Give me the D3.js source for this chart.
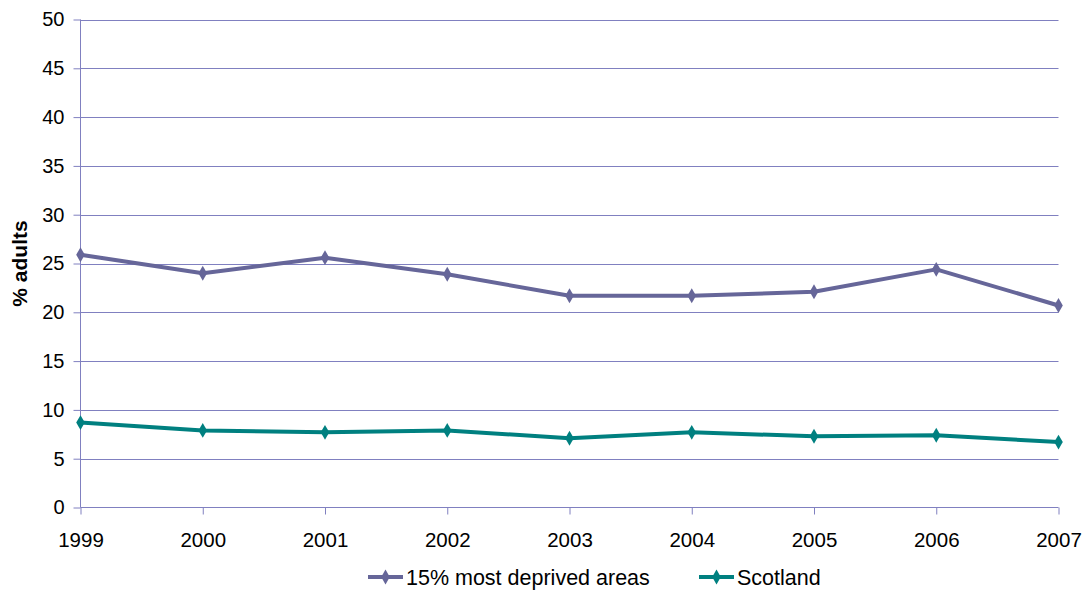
<!DOCTYPE html>
<html>
<head>
<meta charset="utf-8">
<script src="https://cdn.jsdelivr.net/npm/d3@7"></script>
<style>
  html, body { margin: 0; padding: 0; background: #fff; }
  svg { display: block; font-family: "Liberation Sans", Arial, sans-serif; }
</style>
</head>
<body>
<svg id="chart" width="1086" height="590"></svg>
<script>
// Survey years on the category axis
const years = ["1999", "2000", "2001", "2002", "2003", "2004", "2005", "2006", "2007"];
// Percentage of adults, by area type
const deprivedValues = [25.9, 24.0, 25.6, 23.9, 21.7, 21.7, 22.1, 24.4, 20.7];
const scotlandValues = [8.7, 7.9, 7.7, 7.9, 7.1, 7.7, 7.3, 7.4, 6.7];
const seriesNames = ["15% most deprived areas", "Scotland"];
const yTicks = [0, 5, 10, 15, 20, 25, 30, 35, 40, 45, 50];

const series = [
  { name: seriesNames[0], values: deprivedValues, color: "#666699" },
  { name: seriesNames[1], values: scotlandValues, color: "#008080" }
];

const svg = d3.select("#chart");
const plotLeft = 80.5, plotRight = 1058.5, plotTop = 19.5, plotBottom = 507.5;
const axisColor = "#8080c0";

const x = d3.scalePoint().domain(years).range([plotLeft, plotRight]);
const y = d3.scaleLinear().domain([0, 50]).range([plotBottom, plotTop]);

// Horizontal gridlines
svg.append("g")
  .selectAll("line")
  .data(yTicks.filter(d => d > 0))
  .join("line")
  .attr("x1", plotLeft).attr("x2", plotRight)
  .attr("y1", d => Math.round(y(d)) + 0.5).attr("y2", d => Math.round(y(d)) + 0.5)
  .attr("stroke", axisColor).attr("stroke-width", 1);

// Y axis
const yAxis = svg.append("g")
  .attr("transform", `translate(${plotLeft},0)`)
  .call(d3.axisLeft(y).tickValues(yTicks).tickSize(7).tickPadding(9).tickFormat(d3.format("d")));
yAxis.select(".domain").attr("stroke", axisColor).attr("d", `M0,${plotTop}V${plotBottom}`);
yAxis.selectAll(".tick line").attr("stroke", axisColor);
yAxis.selectAll(".tick text").attr("fill", "#000").style("font-size", "20px")
  .style("font-family", "'Liberation Sans', Arial, sans-serif");

// X axis
const xAxis = svg.append("g")
  .attr("transform", `translate(0,${plotBottom})`)
  .call(d3.axisBottom(x).tickSize(7).tickPadding(18));
xAxis.select(".domain").attr("stroke", axisColor).attr("d", `M${plotLeft},0H${plotRight}`);
xAxis.selectAll(".tick line").attr("stroke", axisColor);
xAxis.selectAll(".tick text").attr("fill", "#000").style("font-size", "20.5px")
  .style("font-family", "'Liberation Sans', Arial, sans-serif");

// Y axis title
svg.append("text")
  .attr("transform", `translate(27,${(plotTop + plotBottom) / 2}) rotate(-90)`)
  .attr("text-anchor", "middle")
  .style("font-size", "21px").style("font-weight", "bold")
  .text("% adults");

const diamond = d3.symbol().type(d3.symbolDiamond).size(64);

const line = d3.line()
  .x((d, i) => x(years[i]))
  .y(d => y(d));

series.forEach(s => {
  const g = svg.append("g");
  g.append("path")
    .attr("d", line(s.values))
    .attr("fill", "none")
    .attr("stroke", s.color)
    .attr("stroke-width", 4)
    .attr("stroke-linejoin", "round");
  g.selectAll("path.marker")
    .data(s.values)
    .join("path")
    .attr("class", "marker")
    .attr("d", diamond)
    .attr("transform", (d, i) => `translate(${x(years[i])},${y(d)})`)
    .attr("fill", s.color);
});

// Legend
const legendItems = [
  { s: series[0], x0: 368 },
  { s: series[1], x0: 699 }
];
const ly = 577;
legendItems.forEach(({ s, x0 }) => {
  const g = svg.append("g");
  g.append("line")
    .attr("x1", x0).attr("x2", x0 + 35)
    .attr("y1", ly).attr("y2", ly)
    .attr("stroke", s.color).attr("stroke-width", 4);
  g.append("path")
    .attr("d", diamond)
    .attr("transform", `translate(${x0 + 17.5},${ly})`)
    .attr("fill", s.color);
  g.append("text")
    .attr("x", x0 + 38).attr("y", ly + 8)
    .style("font-size", "21.5px")
    .text(s.name);
});
</script>
</body>
</html>
